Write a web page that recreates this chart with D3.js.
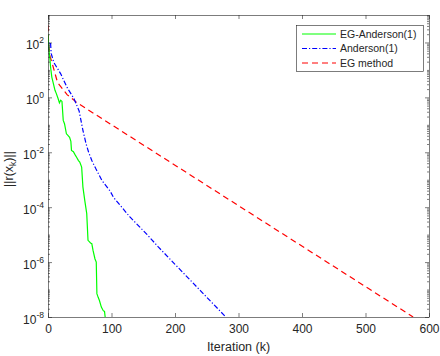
<!DOCTYPE html>
<html>
<head>
<meta charset="utf-8">
<script src="https://cdn.jsdelivr.net/npm/d3@7"></script>
<style>
  body { margin: 0; background: #fff; }
  text { font-family: "Liberation Sans", Arial, Helvetica, sans-serif; fill: #262626; }
</style>
</head>
<body>
<div id="chart"></div>
<script>
// Data (iteration k, residual ||r(x_k)||)
const egAndersonIter = [0, 1, 2, 3, 4, 6, 8, 11, 13, 16, 18, 20, 22, 24, 26, 29, 31, 34, 36, 37, 40, 43, 45, 48, 50, 53, 55, 58, 61, 63, 65, 67, 69, 70, 71, 74, 76, 77, 79, 81, 84, 87, 89, 90];
const egAndersonRes = [2.0e2, 7.9e1, 4.0e1, 2.5e1, 1.3e1, 5.5, 3.5, 1.8, 1.4, 0.89, 0.63, 0.79, 0.71, 0.145, 0.11, 0.047, 0.042, 0.035, 0.025, 0.0117, 0.0105, 0.0079, 0.0066, 0.005, 0.0044, 0.0029, 5.4e-4, 1.7e-4, 5.8e-5, 6.2e-6, 5.6e-6, 5.0e-6, 4.7e-6, 3.5e-6, 2.6e-6, 1.3e-6, 1.0e-6, 7.1e-8, 5.2e-8, 4.0e-8, 2.3e-8, 1.7e-8, 1.6e-8, 1.0e-8];

const andersonIter = [0, 2, 4, 5, 9, 20, 30, 41, 49, 55, 60, 64, 69, 75, 85, 98, 103, 129, 155, 174, 200, 240, 280];
const andersonRes = [50, 100, 100, 40, 19, 7.2, 2.3, 0.89, 0.32, 0.063, 0.02, 0.01, 0.005, 0.0026, 9.3e-4, 3.8e-4, 2.3e-4, 4.4e-5, 1.07e-5, 3.5e-6, 8.3e-7, 9.1e-8, 1.0e-8];

const egIter = [0, 1, 3, 7, 15, 30, 46, 575];
const egRes = [420, 79, 32, 16, 3.5, 1.26, 0.63, 1e-8];

const xTicks = [0, 100, 200, 300, 400, 500, 600];
const yTickExp = [-8, -6, -4, -2, 0, 2];

const seriesNames = ["EG-Anderson(1)", "Anderson(1)", "EG method"];
const seriesColors = ["#00ff00", "#0000ff", "#ff0000"];
const seriesDash = [null, "5,2,1.2,2", "6,4"];

const width = 440;
const height = 356;
const margin = {top: 15, right: 11, bottom: 39, left: 48};

const svg = d3.select("#chart")
    .append("svg")
    .attr("width", width)
    .attr("height", height);

const x = d3.scaleLinear()
    .domain([0, 600])
    .range([margin.left, width - margin.right]);

const y = d3.scaleLog()
    .domain([1e-8, 1e3])
    .range([height - margin.bottom, margin.top]);

// clip
svg.append("defs").append("clipPath")
    .attr("id", "clip")
    .append("rect")
    .attr("x", margin.left)
    .attr("y", margin.top)
    .attr("width", width - margin.left - margin.right)
    .attr("height", height - margin.top - margin.bottom);

// Series
const series = [
    {iter: egAndersonIter, res: egAndersonRes},
    {iter: andersonIter, res: andersonRes},
    {iter: egIter, res: egRes}
];

const line = d3.line()
    .x(d => x(d[0]))
    .y(d => y(d[1]));

const plot = svg.append("g").attr("clip-path", "url(#clip)");

// draw red first, green last
[2, 1, 0].forEach(i => {
    const pts = series[i].iter.map((k, j) => [k, series[i].res[j]]);
    plot.append("path")
        .datum(pts)
        .attr("d", line)
        .attr("fill", "none")
        .attr("stroke", seriesColors[i])
        .attr("stroke-width", 1.2)
        .attr("stroke-dasharray", seriesDash[i]);
});

// Axes
const axisColor = "#262626";
const x0 = x.range()[0], x1 = x.range()[1];
const y0 = y.range()[0], y1 = y.range()[1];

// minor log ticks
const minorTicks = [];
d3.range(-8, 3).forEach(e => {
    for (let m = 1; m <= 9; m++) {
        if (m === 1 && yTickExp.includes(e)) continue;
        minorTicks.push(m * Math.pow(10, e));
    }
});
minorTicks.push(1e3);

const xb = svg.append("g")
    .attr("transform", `translate(0,${y0})`)
    .call(d3.axisBottom(x).tickValues(xTicks).tickSize(-4).tickPadding(7).tickFormat(d3.format("d")));
const xt = svg.append("g")
    .attr("transform", `translate(0,${y1})`)
    .call(d3.axisTop(x).tickValues(xTicks).tickSize(-4).tickFormat(""));

const yMajor = yTickExp.map(e => Math.pow(10, e));
const yl = svg.append("g")
    .attr("transform", `translate(${x0},0)`)
    .call(d3.axisLeft(y).tickValues(yMajor).tickSize(-4).tickFormat(""));
const yr = svg.append("g")
    .attr("transform", `translate(${x1},0)`)
    .call(d3.axisRight(y).tickValues(yMajor).tickSize(-4).tickFormat(""));
const ylm = svg.append("g")
    .attr("transform", `translate(${x0},0)`)
    .call(d3.axisLeft(y).tickValues(minorTicks).tickSize(-2).tickFormat(""));
const yrm = svg.append("g")
    .attr("transform", `translate(${x1},0)`)
    .call(d3.axisRight(y).tickValues(minorTicks).tickSize(-2).tickFormat(""));

[xb, xt, yl, yr, ylm, yrm].forEach(g => {
    g.select(".domain").remove();
    g.selectAll(".tick line").attr("stroke", axisColor).attr("stroke-width", 0.6);
});
xb.selectAll(".tick text")
    .style("font-family", "'Liberation Sans', Arial, sans-serif")
    .style("font-size", "12px")
    .attr("fill", axisColor);

// box
svg.append("rect")
    .attr("x", x0 + 0.5)
    .attr("y", y1 + 0.5)
    .attr("width", x1 - x0)
    .attr("height", y0 - y1)
    .attr("fill", "none")
    .attr("stroke", axisColor)
    .attr("stroke-width", 0.6);

// y tick labels with superscript exponent
yTickExp.forEach(e => {
    const t = svg.append("text")
        .attr("x", x0 - 4)
        .attr("y", y(Math.pow(10, e)) + 7)
        .attr("text-anchor", "end")
        .style("font-size", "12px");
    t.append("tspan").text("10");
    t.append("tspan")
        .attr("dy", -6.5)
        .style("font-size", "8.5px")
        .text(e < 0 ? "-" + (-e) : e);
});

// Axis labels
svg.append("text")
    .attr("x", (x0 + x1) / 2)
    .attr("y", 351)
    .attr("text-anchor", "middle")
    .style("font-size", "12.5px")
    .text("Iteration (k)");

const ylab = svg.append("text")
    .attr("transform", `translate(13,${169}) rotate(-90)`)
    .attr("text-anchor", "middle")
    .style("font-size", "12.5px");
ylab.append("tspan").text("||r(x");
ylab.append("tspan").attr("dy", 3).style("font-size", "8.5px").text("k");
ylab.append("tspan").attr("dy", -3).text(")||");

// Legend
const legend = svg.append("g");
legend.append("rect")
    .attr("x", 296.5)
    .attr("y", 25.5)
    .attr("width", 127)
    .attr("height", 46)
    .attr("fill", "#fff")
    .attr("stroke", axisColor)
    .attr("stroke-width", 0.6);

seriesNames.forEach((name, i) => {
    const ly = 34 + i * 14.5;
    legend.append("line")
        .attr("x1", 302)
        .attr("x2", 336)
        .attr("y1", ly)
        .attr("y2", ly)
        .attr("stroke", seriesColors[i])
        .attr("stroke-width", 1.2)
        .attr("stroke-dasharray", seriesDash[i]);
    legend.append("text")
        .attr("x", 340)
        .attr("y", ly + 3.8)
        .style("font-size", "10.5px")
        .text(name);
});
</script>
</body>
</html>
